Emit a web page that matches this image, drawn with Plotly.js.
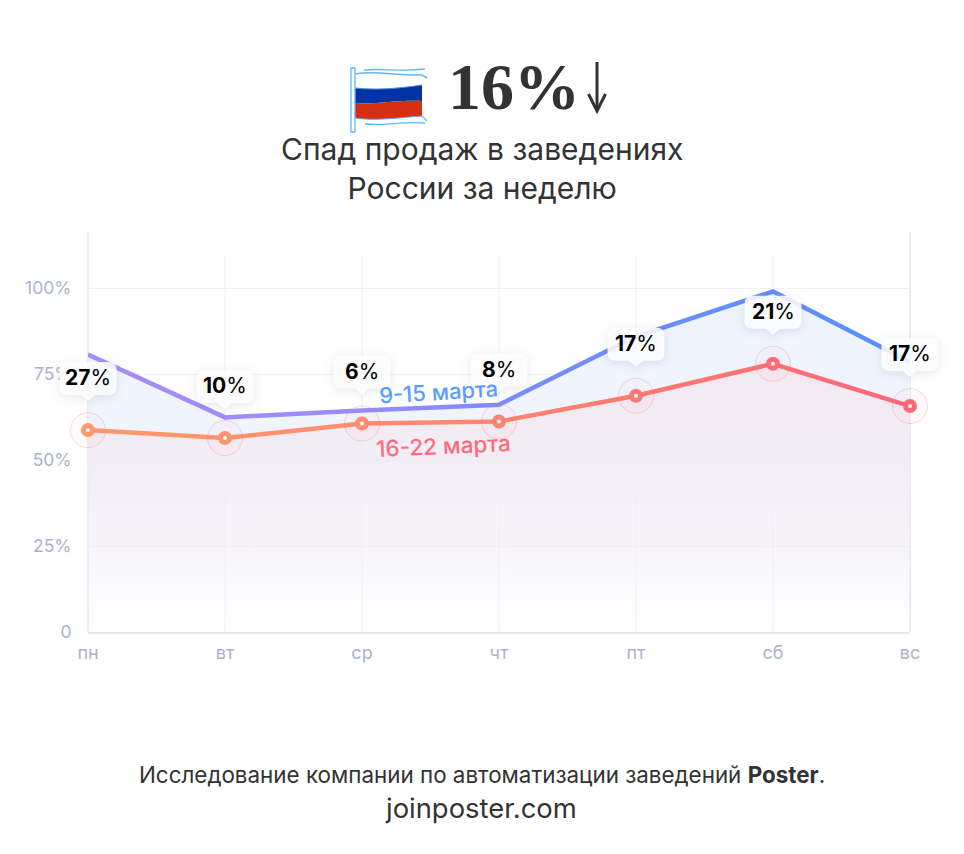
<!DOCTYPE html>
<html><head><meta charset="utf-8">
<script src="https://cdn.plot.ly/plotly-3.0.1.min.js"></script>
<style>html,body{margin:0;padding:0;background:#fff}#chart{width:964px;height:854px}</style>
</head><body><div id="chart"></div>
<script>
const days = ['пн','вт','ср','чт','пт','сб','вс'];
const week1 = [80.7,62.4,64.4,66.1,85.9,99.0,78.6];
const week2 = [58.7,56.4,60.6,61.2,68.7,78.0,65.7];
const drops = ['27','10','6','8','17','21','17'];
const markerColors = ['#ff9a6b','#ff936d','#ff8d6f','#ff8570','#ff7873','#ff6e76','#ff6877'];
const yTickVals = [0,25,50,75,100];
const yTickText = ['0','25%','50%','75%','100%'];
const name1 = '9-15 марта', name2 = '16-22 марта';
const FONT = 'Inter, "Open Sans", sans-serif';

const W=964,H=854,L=88,R=54,T=232,B=222,PW=W-L-R,PH=H-T-B;
const px=(x)=>(x-L)/PW, py=(y)=>(H-B-y)/PH;
const pageShape=(x,y,path,fill,line,width)=>({type:'path',xref:'paper',yref:'paper',xsizemode:'pixel',ysizemode:'pixel',
  xanchor:px(x),yanchor:py(y),path,fillcolor:fill||'rgba(0,0,0,0)',line:{color:line||'rgba(0,0,0,0)',width:width||0},layer:'above'});

const shapes=[];
days.forEach((d,i)=>{
  const edge=(i===0||i===days.length-1);
  shapes.push({type:'line',xref:'paper',yref:'y',x0:i/6,x1:i/6,y0:0,y1:edge?116.3:109.4,layer:'below',
    line:{color:edge?'#ededef':'#f1f1f3',width:edge?2:1}});
});
// callouts
const r=8,w=57,h=33,off=29,tail=6;
const bubble='M'+(-w/2+r)+','+(off+tail)+' H-7 L0,'+off+' L7,'+(off+tail)+' H'+(w/2-r)+
 ' Q'+(w/2)+','+(off+tail)+' '+(w/2)+','+(off+tail+r)+' V'+(off+tail+h-r)+
 ' Q'+(w/2)+','+(off+tail+h)+' '+(w/2-r)+','+(off+tail+h)+' H'+(-w/2+r)+
 ' Q'+(-w/2)+','+(off+tail+h)+' '+(-w/2)+','+(off+tail+h-r)+' V'+(off+tail+r)+
 ' Q'+(-w/2)+','+(off+tail)+' '+(-w/2+r)+','+(off+tail)+' Z';
week2.forEach((v,i)=>{
  shapes.push({type:'path',xref:'paper',yref:'y',xsizemode:'pixel',ysizemode:'pixel',xanchor:i/6,yanchor:v,
    path:bubble,fillcolor:'rgba(255,255,255,0.86)',line:{width:0},layer:'above',name:'bubble'});
});
// flag
const ox=355,oy=75;
const fp=(s)=>pageShape(ox,oy,s[0],s[1],s[2],s[3]);
[
 ['M0,2 C20,6 40,-1 67,0 V-14 C40,-10 20,-11 0,-12 Z','#ffffff',null,0],
 ['M0,-13 C20,-15 40,-14 67,-10 V-26 C40,-25 20,-30 0,-28 Z','#0033a8',null,0],
 ['M0,-28 C20,-30 40,-25 67,-26 V-41 C40,-43 20,-46 0,-43 Z','#d32f10',null,0],
 ['M0,-13 C20,-15 40,-14 67,-10','rgba(0,0,0,0)','#5c8fe0',1],
 ['M0,-43 C20,-46 40,-43 67,-41','rgba(0,0,0,0)','#6c9fe8',1],
 ['M0,1 C20,5 40,-1 67,0 L72,-3','rgba(0,0,0,0)','#62b8ff',1.5],
 ['M9,5 C30,7 45,3 70,6','rgba(0,0,0,0)','#62b8ff',1.3],
 ['M10,-49 C30,-51 45,-46 70,-48','rgba(0,0,0,0)','#62b8ff',1.3],
 ['M67,-41 L72,-46','rgba(0,0,0,0)','#62b8ff',1.3],
 ['M-4,7 H0 V-57 H-4 Z','#ffffff','#62b8ff',1.3]
].forEach(s=>shapes.push(fp(s)));
// arrow beside the headline figure
shapes.push(pageShape(597,62,'M0,0 V-49','rgba(0,0,0,0)','#333333',3));
shapes.push(pageShape(597,62,'M-8.5,-32 L0,-49 L8.5,-32','rgba(0,0,0,0)','#333333',3));

const annotations=[];
const txt=(text,x,y,size,color,extra)=>annotations.push(Object.assign({xref:'paper',yref:'paper',x:px(x),y:py(y),text,showarrow:false,
  xanchor:'center',yanchor:'middle',font:{family:FONT,size,color}},extra||{}));
txt('<b>16%</b>',514,87,66,'#333333',{font:{family:'"Liberation Serif",serif',size:66,color:'#333333'}});
txt('Спад продаж в заведениях<br>России за неделю',482,168.5,30,'#333333');
txt('Исследование компании по автоматизации заведений <b>Poster</b>.',482,774,22.4,'#333333');
txt('joinposter.com',481,807.5,27.4,'#333333');
txt(name1,438.5,391.5,22,'#5b9bff',{textangle:-3.5,font:{family:FONT,size:22,color:'#5b9bff',weight:500}});
txt(name2,443.5,445,22.5,'#ff6b78',{textangle:-2.5,font:{family:FONT,size:22.5,color:'#ff6b78',weight:500}});
drops.forEach((t,i)=>annotations.push({xref:'paper',yref:'y',x:i/6,y:week2[i],yshift:off+tail+h/2+1,text:'<b>'+t+'</b>%',showarrow:false,
  xanchor:'center',yanchor:'middle',font:{family:FONT,size:21,color:'#000000'}}));

const xi=days.map((d,i)=>i);
const traces=[
 {x:xi,y:week1,mode:'lines',name:name1,line:{color:'#7a8cff',width:4.5},fill:'tozeroy',cliponaxis:false,hoverinfo:'skip',
  fillgradient:{type:'vertical',start:0,stop:100,colorscale:[[0,'rgba(238,243,254,0)'],[0.5,'rgba(238,243,254,0.85)'],[1,'rgba(238,244,254,1)']]}},
 {x:xi,y:week2,mode:'lines',name:name2,line:{color:'#ff8071',width:4.5},fill:'tozeroy',cliponaxis:false,hoverinfo:'skip',
  fillgradient:{type:'vertical',start:0,stop:80,colorscale:[[0,'rgba(245,225,232,0)'],[1,'rgba(245,225,232,0.62)']]}},
 {x:xi,y:week2,mode:'markers',cliponaxis:false,hoverinfo:'skip',showlegend:false,
  marker:{size:35,color:'rgba(255,120,125,0.03)',line:{color:'rgba(255,110,120,0.28)',width:1}}},
 {x:xi,y:week2,mode:'markers',cliponaxis:false,hoverinfo:'skip',showlegend:false,
  marker:{size:9,color:'#ffffff',line:{color:markerColors,width:5}}}
];
const layout={width:W,height:H,margin:{l:L,r:R,t:T,b:B},paper_bgcolor:'#fff',plot_bgcolor:'#fff',showlegend:false,
 xaxis:{type:'linear',range:[0,6],tickmode:'array',tickvals:xi,ticktext:days,showgrid:false,zeroline:false,
   showline:true,linecolor:'#e8e8ea',linewidth:2,ticks:'outside',ticklen:3,tickcolor:'rgba(0,0,0,0)',
   tickfont:{family:FONT,size:18,color:'#aab3cd'}},
 yaxis:{range:[0,116.3],tickmode:'array',tickvals:yTickVals,ticktext:yTickText,showgrid:true,gridcolor:'#f1f1f3',gridwidth:1,
   zeroline:false,showline:false,ticks:'outside',ticklen:12,tickcolor:'rgba(0,0,0,0)',
   tickfont:{family:FONT,size:17.5,color:'#aab3cd'}},
 shapes,annotations};
Plotly.newPlot('chart',traces,layout,{displayModeBar:false,staticPlot:true}).then(gd=>{
  const svg=gd.querySelector('svg.main-svg');
  const defs=svg.querySelector('defs');
  const ns='http://www.w3.org/2000/svg';
  const grad=(id,stops)=>{const g=document.createElementNS(ns,'linearGradient');g.id=id;
    g.setAttribute('gradientUnits','userSpaceOnUse');g.setAttribute('x1',0);g.setAttribute('x2',PW);g.setAttribute('y1',0);g.setAttribute('y2',0);
    stops.forEach(([o,c])=>{const s=document.createElementNS(ns,'stop');s.setAttribute('offset',o);s.setAttribute('stop-color',c);g.appendChild(s);});
    defs.appendChild(g);};
  grad('g1',[[0,'#a88bfb'],[0.33,'#998cff'],[0.5,'#7d8bff'],[0.67,'#6a8cff'],[1,'#5b90ff']]);
  grad('g2',[[0,'#ff9a6b'],[0.33,'#ff8d6f'],[0.5,'#ff8570'],[0.67,'#ff7873'],[1,'#ff6877']]);
  const tr=gd.querySelectorAll('.scatterlayer .trace');
  tr[0].querySelectorAll('.js-line').forEach(p=>p.style.stroke='url(#g1)');
  tr[1].querySelectorAll('.js-line').forEach(p=>p.style.stroke='url(#g2)');
  gd.querySelectorAll('.shapelayer path').forEach(p=>{
    const op=parseFloat(p.style.fillOpacity);
    if(op>0.8&&op<0.9){p.style.filter='drop-shadow(0 2px 5px rgba(60,60,90,0.14))';}
  });
});
</script></body></html>
